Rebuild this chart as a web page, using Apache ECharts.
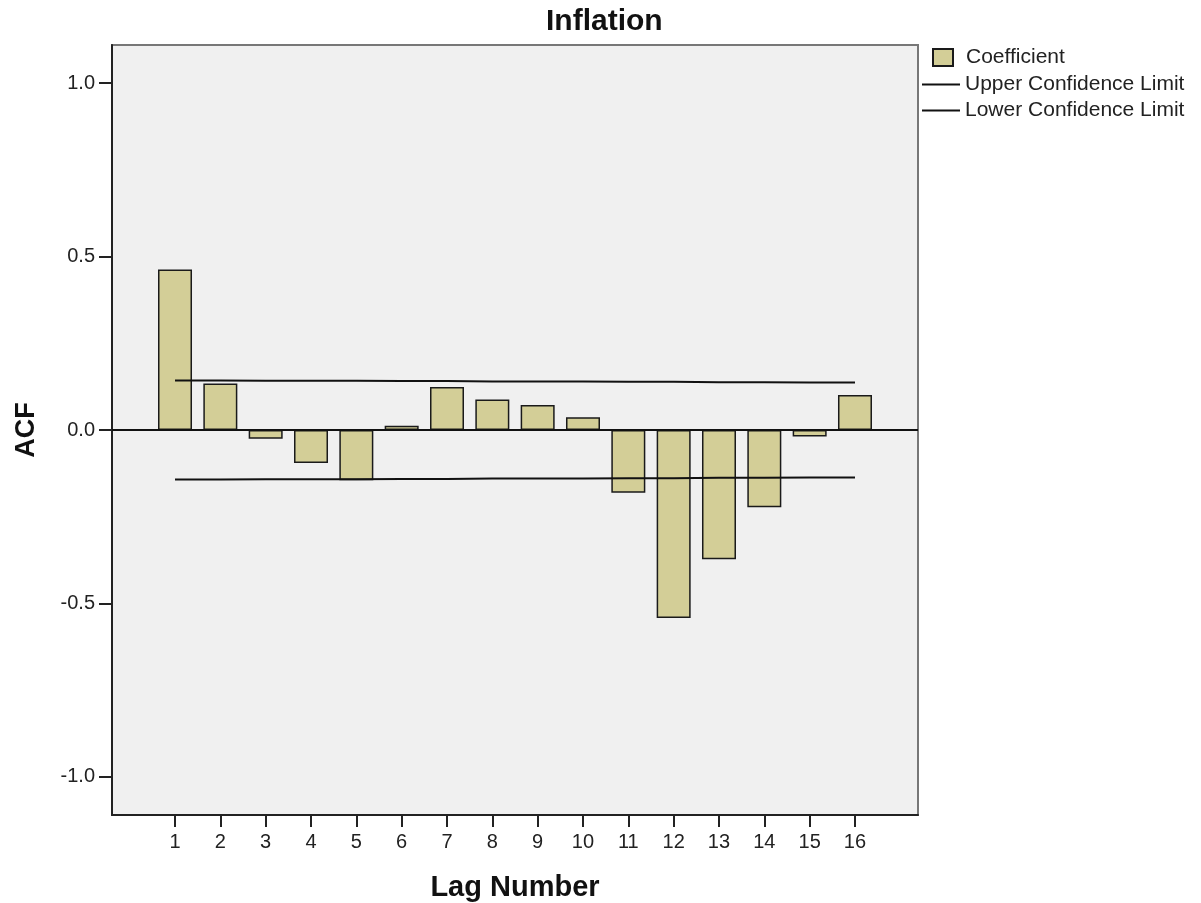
<!DOCTYPE html>
<html>
<head>
<meta charset="utf-8">
<script src="https://cdn.jsdelivr.net/npm/echarts@6/dist/echarts.min.js"></script>
<style>
html,body{margin:0;padding:0;background:#fff;}
#chart{width:1201px;height:903px;}
</style>
</head>
<body>
<div id="chart"></div>
<script>
var lags = [1, 2, 3, 4, 5, 6, 7, 8, 9, 10, 11, 12, 13, 14, 15, 16];
var coefficient = [0.463, 0.134, -0.025, -0.095, -0.145, 0.012, 0.124, 0.088, 0.072, 0.037, -0.181, -0.542, -0.373, -0.223, -0.019, 0.101];
var upperLimit = [0.143, 0.143, 0.142, 0.142, 0.142, 0.141, 0.141, 0.140, 0.140, 0.140, 0.139, 0.139, 0.138, 0.138, 0.137, 0.137];
var lowerLimit = [-0.143, -0.143, -0.142, -0.142, -0.142, -0.141, -0.141, -0.140, -0.140, -0.140, -0.139, -0.139, -0.138, -0.138, -0.137, -0.137];
var yTicks = [-1.0, -0.5, 0.0, 0.5, 1.0];

var FONT = '"Liberation Sans", Arial, sans-serif';
var chart = echarts.init(document.getElementById('chart'), null, {renderer: 'canvas'});

function pairs(xs, ys) { return xs.map(function (x, i) { return [x, ys[i]]; }); }

chart.setOption({
  animation: false,
  backgroundColor: '#ffffff',
  title: {
    text: 'Inflation',
    left: 546,
    top: 7,
    padding: 0,
    textStyle: {fontFamily: FONT, fontSize: 30, fontWeight: 'bold', color: '#111'}
  },
  legend: [
    {
      data: ['Coefficient'],
      orient: 'vertical',
      left: 932,
      top: 47,
      padding: 0,
      itemWidth: 20,
      itemHeight: 17,
      icon: 'rect',
      selectedMode: false,
      textStyle: {fontFamily: FONT, fontSize: 21, color: '#222', padding: [0, 0, 0, 8]}
    },
    {
      data: ['Upper Confidence Limit', 'Lower Confidence Limit'],
      orient: 'vertical',
      left: 922,
      top: 74,
      padding: 0,
      itemWidth: 38,
      itemHeight: 2,
      itemGap: 5,
      icon: 'rect',
      selectedMode: false,
      itemStyle: {color: '#111', borderWidth: 0},
      textStyle: {fontFamily: FONT, fontSize: 21, color: '#222'}
    }
  ],
  grid: {
    left: 112, top: 45, right: 283, bottom: 88,
    outerBoundsMode: 'none',
    containLabel: false,
    show: true,
    backgroundColor: '#F0F0F0',
    borderColor: '#777',
    borderWidth: 2
  },
  xAxis: {
    type: 'value',
    min: -0.39,
    max: 17.39,
    name: 'Lag Number',
    nameLocation: 'middle',
    nameGap: 58,
    nameTextStyle: {fontFamily: FONT, fontSize: 29, fontWeight: 'bold', color: '#111'},
    splitLine: {show: false},
    axisLine: {show: true, onZero: false, lineStyle: {color: '#222', width: 2}},
    axisTick: {show: true, customValues: lags, length: 12, lineStyle: {color: '#222', width: 2}},
    axisLabel: {customValues: lags, margin: 17, fontFamily: FONT, fontSize: 20, color: '#222',
      formatter: function (v) { return String(Math.round(v)); }}
  },
  yAxis: {
    type: 'value',
    min: -1.11,
    max: 1.11,
    name: 'ACF',
    nameLocation: 'middle',
    nameGap: 72,
    nameRotate: 90,
    nameTextStyle: {fontFamily: FONT, fontSize: 27, fontWeight: 'bold', color: '#111'},
    splitLine: {show: false},
    axisLine: {show: true, onZero: false, lineStyle: {color: '#222', width: 2}},
    axisTick: {show: true, customValues: yTicks, length: 13, lineStyle: {color: '#222', width: 2}},
    axisLabel: {customValues: yTicks, margin: 17, fontFamily: FONT, fontSize: 20, color: '#222',
      formatter: function (v) { return v.toFixed(1); }}
  },
  series: [
    {
      name: 'Coefficient',
      type: 'bar',
      barWidth: 34,
      data: pairs(lags, coefficient),
      itemStyle: {color: '#D3CE97', borderColor: '#1a1a1a', borderWidth: 1.5},
      silent: true,
      markLine: {
        silent: true,
        symbol: ['none', 'none'],
        label: {show: false},
        lineStyle: {color: '#111', width: 2, type: 'solid'},
        data: [{yAxis: 0}]
      }
    },
    {
      name: 'Upper Confidence Limit',
      type: 'line',
      data: pairs(lags, upperLimit),
      symbol: 'none',
      silent: true,
      lineStyle: {color: '#111', width: 2},
      itemStyle: {color: '#111'}
    },
    {
      name: 'Lower Confidence Limit',
      type: 'line',
      data: pairs(lags, lowerLimit),
      symbol: 'none',
      silent: true,
      lineStyle: {color: '#111', width: 2},
      itemStyle: {color: '#111'}
    }
  ]
});
</script>
</body>
</html>
